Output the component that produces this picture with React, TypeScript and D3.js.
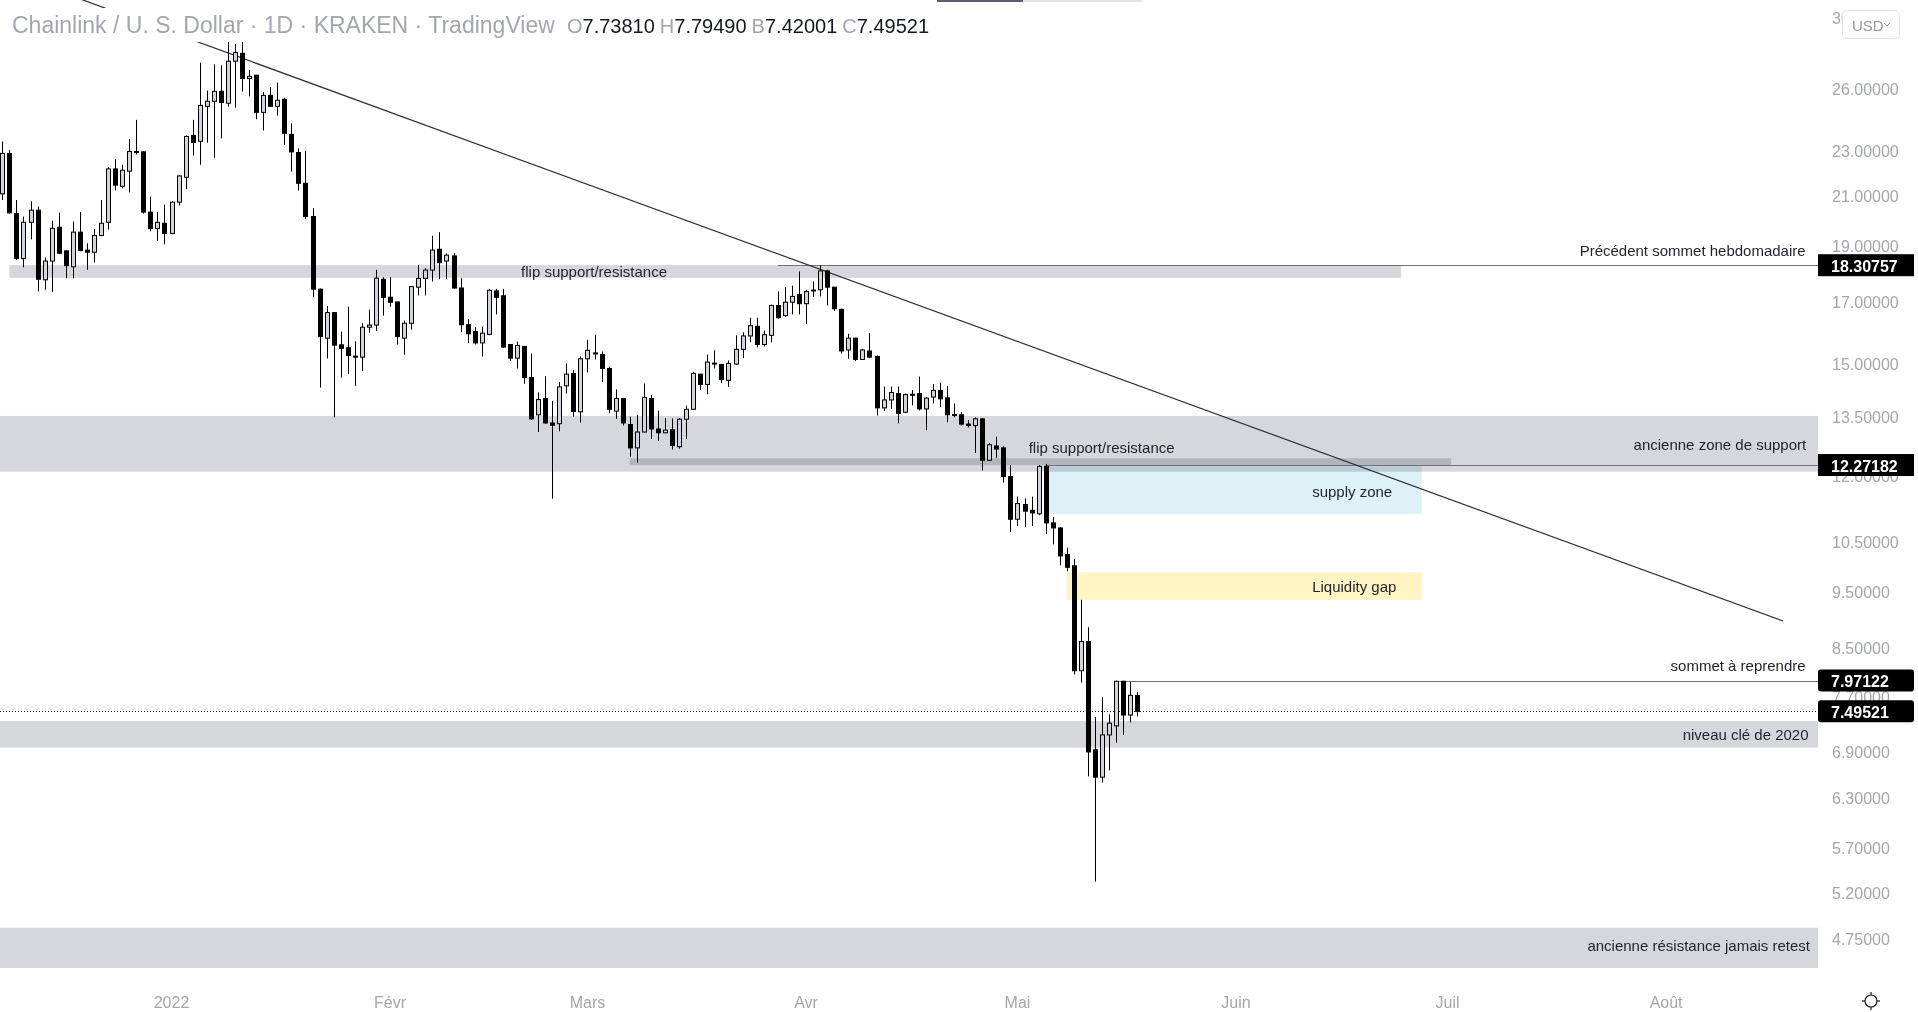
import React from "react";
import * as d3 from "d3";

const W = 1918;
const H = 1012;
const PANE_RIGHT = 1818;
const PANE_BOTTOM = 968;

// ---- data (LINK/USD daily, Kraken) ----
const firstDay = "2021-12-08";
const opens = [21.12,22.90,20.30,18.55,19.95,20.44,17.78,18.46,19.75,18.84,18.25,19.56,18.87,18.79,19.43,19.95,22.20,21.44,22.10,22.99,22.97,20.36,19.70,19.91,19.51,20.77,21.83,23.74,23.46,25.16,25.42,25.93,25.32,27.54,27.98,26.60,26.78,24.86,25.72,25.16,25.52,23.79,22.94,21.57,20.18,17.45,15.82,16.65,15.61,15.52,15.26,15.23,16.17,16.24,17.80,17.17,17.01,15.82,16.30,17.52,17.83,18.13,18.90,18.46,18.65,17.49,16.25,16.03,15.67,15.94,17.39,17.22,15.62,15.20,15.56,14.62,13.57,14.02,13.35,13.33,14.38,14.74,13.65,15.18,15.36,15.31,14.89,13.67,14.02,13.31,12.70,13.11,14.02,13.19,13.09,13.17,12.73,13.45,13.72,14.72,14.42,15.05,15.01,14.54,15.02,15.47,15.89,16.20,15.62,15.91,16.89,16.55,17.00,17.26,16.95,17.40,17.43,18.10,17.52,16.76,15.45,15.82,15.16,15.42,15.25,13.76,13.98,14.16,13.64,14.14,14.16,13.73,14.06,14.25,14.04,13.58,13.57,13.32,13.28,13.46,12.39,12.75,12.70,11.99,11.01,11.34,11.21,11.13,12.24,10.93,10.82,10.26,10.03,8.13,8.62,6.94,6.57,7.15,7.28,7.96,7.44,7.7381];
const highs = [23.45,23.05,20.86,20.18,20.81,20.59,18.59,20.01,20.34,18.86,19.98,20.36,19.13,19.68,20.86,22.28,22.64,22.38,23.57,24.49,23.00,21.00,20.37,20.67,20.82,21.92,23.74,24.49,27.46,25.97,27.37,27.32,28.62,28.51,28.62,27.06,26.80,25.90,26.14,26.38,25.60,24.32,23.13,23.02,20.52,17.47,16.87,16.67,16.03,16.85,15.72,16.30,16.75,18.14,17.87,17.87,17.02,16.39,17.56,18.32,18.20,19.42,19.56,18.75,18.75,17.84,16.43,16.17,16.19,17.46,17.46,17.46,15.63,15.71,15.57,15.34,14.19,14.66,13.95,14.49,15.04,14.84,15.25,15.77,15.93,15.40,14.94,14.28,14.03,13.52,13.57,14.45,14.12,13.68,13.48,13.47,13.48,13.82,14.79,14.73,15.31,15.44,15.02,15.13,15.91,16.01,16.48,16.48,16.06,16.92,17.37,17.52,17.57,18.08,17.43,17.72,18.31,18.14,17.53,16.78,15.96,15.83,15.49,15.98,15.28,14.36,14.36,14.36,14.16,14.26,14.65,14.06,14.43,14.47,14.37,13.88,13.64,13.43,13.50,13.48,12.82,12.99,12.74,12.27,11.52,11.48,11.52,12.27,12.30,11.06,10.84,10.40,10.17,9.37,8.87,7.41,7.71,7.45,7.97,7.97,7.95,7.7949];
const lows = [20.86,20.30,18.50,18.23,19.28,17.37,17.43,17.35,18.72,17.84,17.84,18.83,18.14,18.41,19.40,19.66,21.26,21.35,21.18,22.85,20.30,19.59,19.22,19.09,19.48,20.63,21.32,22.80,22.38,23.40,22.70,23.60,25.14,25.09,25.91,25.67,24.52,23.97,25.14,24.70,23.29,22.08,21.26,20.07,17.17,14.33,15.19,13.50,14.62,14.73,14.38,14.81,15.99,16.05,16.55,16.85,15.62,15.30,16.09,17.23,17.23,17.72,17.80,17.80,17.47,16.01,15.66,15.62,15.25,15.91,16.59,15.52,15.11,14.89,14.44,13.43,13.11,13.33,11.47,13.13,14.16,13.52,13.36,14.77,15.16,14.49,13.61,13.46,13.28,12.48,12.33,13.10,12.93,12.88,13.08,12.66,12.68,12.93,13.70,14.26,14.14,14.89,14.46,14.35,14.99,15.20,15.69,15.53,15.56,15.69,16.45,16.51,16.59,16.59,16.27,17.18,17.20,16.89,16.71,15.34,15.18,15.11,15.15,15.20,13.55,13.67,13.73,13.34,13.62,13.83,13.69,13.16,13.88,13.78,13.37,13.50,13.28,13.23,12.57,12.14,12.37,12.45,11.85,10.73,10.86,10.84,10.86,11.10,10.69,10.47,10.04,9.92,8.07,7.94,6.58,5.33,6.50,6.66,7.04,7.15,7.33,7.42001];
const closes = [22.90,20.33,18.55,19.95,20.44,17.80,18.46,19.71,18.75,18.29,19.56,18.85,18.79,19.43,19.91,22.20,21.49,22.14,22.99,22.95,20.36,19.70,19.95,19.51,20.77,21.89,23.69,23.40,25.21,25.42,25.93,25.36,27.54,28.02,26.60,26.72,24.86,25.72,25.16,25.47,23.84,22.97,21.57,20.18,17.45,15.87,16.65,15.60,15.50,15.28,15.25,16.17,16.24,17.84,17.17,17.00,15.87,16.30,17.54,17.83,18.13,18.87,18.40,18.68,17.49,16.25,15.96,15.67,15.98,17.41,17.17,15.54,15.20,15.59,14.62,13.46,13.99,13.35,13.29,14.35,14.72,13.66,15.18,15.44,15.33,14.89,13.72,14.02,13.35,12.70,13.11,14.05,13.19,13.09,13.16,12.76,13.45,13.72,14.74,14.42,15.08,15.03,14.56,15.04,15.47,15.89,16.22,15.62,15.93,16.89,16.48,17.00,17.20,16.95,17.37,17.42,18.10,17.52,16.78,15.42,15.82,15.16,15.45,15.23,13.76,13.98,14.19,13.61,14.13,14.12,13.73,14.03,14.25,14.01,13.57,13.56,13.32,13.28,13.46,12.39,12.78,12.67,11.99,11.01,11.36,11.19,11.15,12.24,10.93,10.82,10.23,10.00,8.13,8.62,6.91,6.57,7.15,7.32,7.96,7.44,7.74,7.49521];

const priceTicks = [30, 26, 23, 21, 19, 17, 15, 13.5, 12, 10.5, 9.5, 8.5, 7.7, 6.9, 6.3, 5.7, 5.2, 4.75];
const monthDates = ["2022-01-01", "2022-02-01", "2022-03-01", "2022-04-01", "2022-05-01", "2022-06-01", "2022-07-01", "2022-08-01"];
const monthLabels = ["2022", "Févr", "Mars", "Avr", "Mai", "Juin", "Juil", "Août"];

// zones: [from, to, top price, bottom price, kind]
const zoneFrom = ["2021-12-09", "2021-11-01", "2022-03-07", "2022-05-05", "2022-05-08", "2021-11-01", "2021-11-01"];
const zoneTo = ["2022-06-24T10:00", "2022-09-30", "2022-07-01T12:00", "2022-06-27T08:00", "2022-06-27T08:00", "2022-09-30", "2022-09-30"];
const zoneTop = [18.31, 13.54, 12.44, 12.24, 9.90, 7.35, 4.86];
const zoneBottom = [17.85, 12.11, 12.27, 11.13, 9.37, 6.97, 4.40];
const zoneKind = ["gray", "gray", "gray", "blue", "yellow", "gray", "gray"];

// horizontal levels
const levelFrom = ["2022-03-28", "2022-05-05", "2022-05-15"];
const levelPrice = [18.30757, 12.27182, 7.97122];

// trend line anchors
const trendDates = ["2021-12-19", "2022-08-17T14:00"];
const trendPrices = [31.2, 8.98];

// text annotations
const noteText = ["flip support/resistance", "flip support/resistance", "supply zone", "Liquidity gap", "Précédent sommet hebdomadaire", "ancienne zone de support", "sommet à reprendre", "niveau clé de 2020", "ancienne résistance jamais retest"];
const noteDate = ["2022-02-19T14:00", "2022-05-02T14:00", "2022-06-11T19:00", "2022-06-11T19:00", "2022-08-20T19:00", "2022-08-20T21:00", "2022-08-20T19:00", "2022-08-21T05:00", "2022-08-21T10:00"];
const notePrice = [18.08, 12.72, 11.63, 9.63, 18.84, 12.78, 8.22, 7.16, 4.69];
const noteAnchor = ["start", "start", "start", "start", "end", "end", "end", "end", "end"];

const axisLabels = [18.30757, 12.27182, 7.97122, 7.49521];

const FONT = "'Liberation Sans', Arial, sans-serif";
const zoneColor: Record<string, string> = { gray: "#d6d7dc", blue: "#ddf1f7", yellow: "#fff4c2" };

const utc = (s: string) => new Date(s.length === 10 ? s + "T00:00:00Z" : s + ":00Z");

export default function App() {
  const pxPerDay = 7.05;
  const x0 = 171.5;
  const x = d3.scaleUtc()
    .domain([utc("2022-01-01"), utc("2022-08-01")])
    .range([x0, x0 + 212 * pxPerDay]);
  const y = d3.scaleLog().domain([4.484, 31.13]).range([PANE_BOTTOM, 0]);

  const start = utc(firstDay);
  const candles = opens.map((o, i) => ({
    date: d3.utcDay.offset(start, i),
    o, h: highs[i], l: lows[i], c: closes[i],
  }));

  const last = candles[candles.length - 1];
  const fmt = (v: number) => v.toFixed(5);

  const trendLine = d3.line<[Date, number]>()
    .x((d) => x(d[0]))
    .y((d) => y(d[1]));
  const trendData: [Date, number][] = trendDates.map((d, i) => [utc(d), trendPrices[i]]);

  return (
    <svg width={W} height={H} style={{ position: "absolute", left: 0, top: 0, background: "#fff" }} fontFamily={FONT}>
      <defs>
        <clipPath id="pane">
          <rect x={0} y={0} width={PANE_RIGHT} height={PANE_BOTTOM} />
        </clipPath>
      </defs>
      <rect x={0} y={0} width={W} height={H} fill="#ffffff" />

      <g clipPath="url(#pane)">
        {/* zones */}
        {zoneFrom.map((f, i) => {
          const xa = x(utc(f));
          const xb = x(utc(zoneTo[i]));
          const ya = y(zoneTop[i]);
          const yb = y(zoneBottom[i]);
          return (
            <rect key={"z" + i} x={xa} y={ya} width={xb - xa} height={yb - ya}
              fill={zoneColor[zoneKind[i]]} style={{ mixBlendMode: "multiply" }} />
          );
        })}
        {/* levels */}
        {levelFrom.map((f, i) => (
          <line key={"l" + i} x1={x(utc(f))} x2={PANE_RIGHT} y1={Math.round(y(levelPrice[i])) + 0.5} y2={Math.round(y(levelPrice[i])) + 0.5}
            stroke="#6f727b" strokeWidth={1} />
        ))}
        {/* current price dotted line */}
        <line x1={0} x2={PANE_RIGHT} y1={Math.round(y(last.c)) + 0.5} y2={Math.round(y(last.c)) + 0.5}
          stroke="#131722" strokeWidth={1} strokeDasharray="1,2" />
        {/* trend line */}
        <path d={trendLine(trendData) || ""} fill="none" stroke="#2a2e39" strokeWidth={1.2} />

        {/* legend backdrop */}
        <rect x={0} y={8} width={935} height={34} fill="#ffffff" />

        {/* candles */}
        {candles.map((d, i) => {
          const cx = Math.round(x(d.date)) + 0.5;
          const up = d.c >= d.o;
          const yt = y(Math.max(d.o, d.c));
          const yb = y(Math.min(d.o, d.c));
          const bh = Math.max(1, yb - yt);
          return (
            <g key={"c" + i}>
              <line x1={cx} x2={cx} y1={y(d.h)} y2={y(d.l)} stroke="#000" strokeWidth={1} />
              <rect x={cx - 2} y={yt} width={4} height={bh} fill={up ? "#d1d4dc" : "#000"} stroke="#000" strokeWidth={1} />
            </g>
          );
        })}

        {/* annotations */}
        {noteText.map((t, i) => (
          <text key={"n" + i} x={x(utc(noteDate[i]))} y={y(notePrice[i])} textAnchor={noteAnchor[i] as any}
            dominantBaseline="central" fontSize={15} fill="#1e222d">{t}</text>
        ))}
      </g>

      {/* top bar artefact */}
      <rect x={937} y={0} width={86} height={2} fill="#5d606b" />
      <rect x={1023} y={0} width={119} height={2} fill="#e0e3eb" />

      {/* title / legend */}
      <text x={12} y={25} dominantBaseline="central" fontSize={23} fill="#a3a6af">
        Chainlink / U. S. Dollar · 1D · KRAKEN · TradingView
      </text>
      <text x={567} y={26} dominantBaseline="central" fontSize={20}>
        <tspan fill="#a3a6af">O</tspan><tspan fill="#131722">{fmt(last.o)}</tspan>
        <tspan fill="#a3a6af" dx={5}>H</tspan><tspan fill="#131722">{fmt(last.h)}</tspan>
        <tspan fill="#a3a6af" dx={5}>B</tspan><tspan fill="#131722">{fmt(last.l)}</tspan>
        <tspan fill="#a3a6af" dx={5}>C</tspan><tspan fill="#131722">{fmt(last.c)}</tspan>
      </text>

      {/* price axis */}
      {priceTicks.map((p, i) => (
        <text key={"pt" + i} x={1832} y={y(p)} dominantBaseline="central" fontSize={16} fill="#a3a6af">{p.toFixed(5)}</text>
      ))}
      {axisLabels.map((p, i) => {
        const yy = y(p);
        return (
          <g key={"al" + i}>
            <rect x={PANE_RIGHT} y={yy - 11} width={96} height={22} rx={i >= 2 ? 3 : 0} fill="#000" />
            <text x={1831} y={yy + 1} dominantBaseline="central" fontSize={16} fontWeight="bold" fill="#fff">{p.toFixed(5)}</text>
          </g>
        );
      })}

      {/* USD button */}
      <rect x={1842.5} y={10.5} width={57} height={28} rx={4} fill="#fff" stroke="#e0e3eb" />
      <text x={1852} y={25} dominantBaseline="central" fontSize={15} fill="#9598a1">USD</text>
      <path d="M1884,23 l3,3 l3,-3" fill="none" stroke="#9598a1" strokeWidth={1} />

      {/* time axis */}
      {monthDates.map((m, i) => (
        <text key={"mt" + i} x={x(utc(m))} y={1002} textAnchor="middle" dominantBaseline="central" fontSize={16} fill="#a3a6af">{monthLabels[i]}</text>
      ))}

      {/* settings icon */}
      <g transform="translate(1871,1001)" stroke="#131722" fill="none" strokeWidth={1.2}>
        <circle r={6} />
        <line x1={0} y1={-9} x2={0} y2={-6} />
        <line x1={0} y1={6} x2={0} y2={9} />
        <line x1={-9} y1={0} x2={-6} y2={0} />
        <line x1={6} y1={0} x2={9} y2={0} />
      </g>
    </svg>
  );
}
